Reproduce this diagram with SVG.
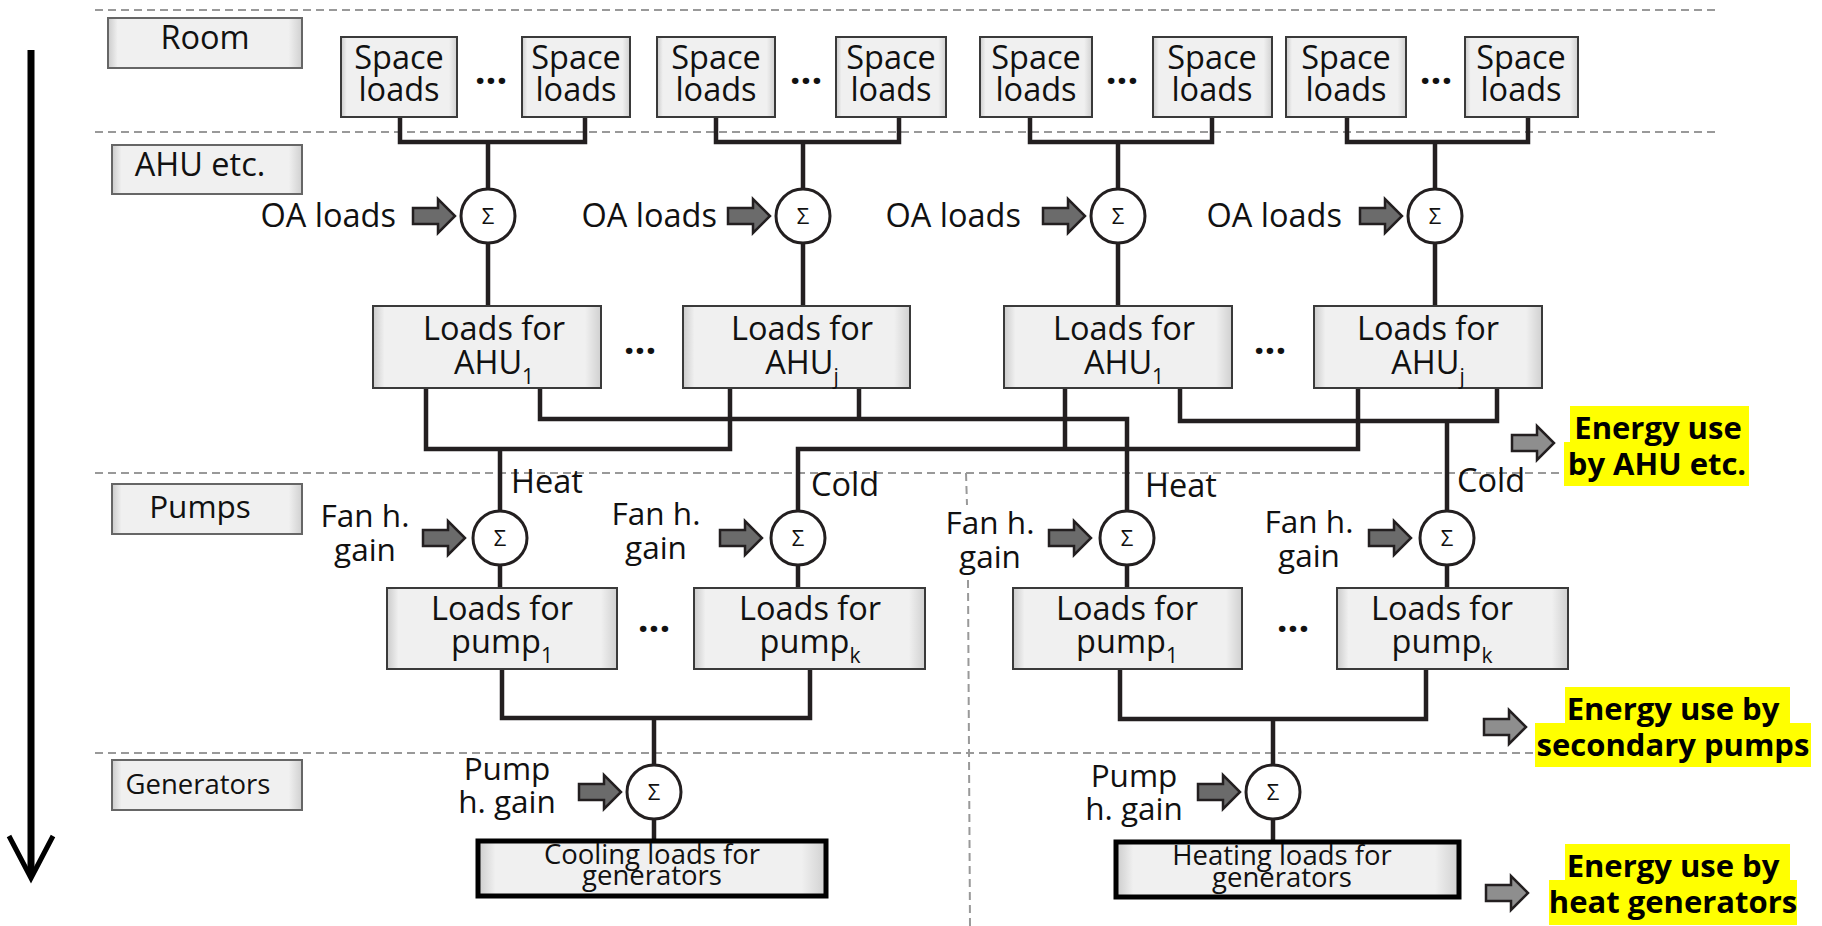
<svg xmlns="http://www.w3.org/2000/svg" width="1822" height="926" viewBox="0 0 1822 926">
<defs>
<linearGradient id="boxg" x1="0" y1="0" x2="1" y2="0">
<stop offset="0" stop-color="#cbcbcb"/>
<stop offset="0.05" stop-color="#f0f0f0"/>
<stop offset="0.93" stop-color="#f0f0f0"/>
<stop offset="1" stop-color="#d0d0d0"/>
</linearGradient>
<path id="barrow" d="M0,-8 H25 V-17 L42,0 L25,17 V8 H0 Z"/>
</defs>
<style>
text { font-family: "Open Sans", "Noto Sans", "DejaVu Sans", sans-serif; fill: #111; }
.c { text-anchor: middle; }
.e { text-anchor: end; }
.f32 { font-size: 32.5px; }
.f31 { font-size: 31.5px; }
.f27 { font-size: 27.5px; }
.sig { font-size: 22px; text-anchor: middle; }
.dots { font-size: 38px; font-weight: bold; text-anchor: middle; }
.en { font-size: 31px; font-weight: bold; text-anchor: middle; fill: #000; }
.lbox { fill: url(#boxg); stroke: #666; stroke-width: 2; }
.box { fill: url(#boxg); stroke: #3a3a3a; stroke-width: 2; }
.gbox { fill: url(#boxg); stroke: #000; stroke-width: 5; }
.sum { fill: #fff; stroke: #231f20; stroke-width: 3; }
.dash { stroke: #999; stroke-width: 2; stroke-dasharray: 8 5; fill: none; }
.wire { stroke: #231f20; stroke-width: 4.5; fill: none; stroke-linejoin: miter; }
.ain { fill: #6b6b6b; stroke: #231f20; stroke-width: 2.5; }
.aout { fill: #8e8e8e; stroke: #231f20; stroke-width: 2.5; }
.hl { fill: #ffff00; }
.bg { fill: #fff; }
</style>

<g id="dividers">
<line class="dash" x1="95" y1="10" x2="1716" y2="10"/>
<line class="dash" x1="95" y1="132" x2="1716" y2="132"/>
<line class="dash" x1="95" y1="473" x2="1566" y2="473"/>
<line class="dash" x1="95" y1="753" x2="1537" y2="753"/>
<line class="dash" x1="966" y1="473" x2="967" y2="505"/>
<line class="dash" x1="968" y1="580" x2="970" y2="926"/>
</g>

<g id="flow-arrow">
<line x1="31" y1="50" x2="31" y2="876" stroke="#000" stroke-width="7"/>
<polyline points="9,836 31,878 53,836" fill="none" stroke="#000" stroke-width="5"/>
</g>

<g id="cat-room"><rect class="lbox" x="108" y="18" width="194" height="50"/><text class="c f32" x="205" y="49">Room</text></g>
<g id="cat-ahu"><rect class="lbox" x="112" y="145" width="190" height="49"/><text class="c f32" x="200" y="176">AHU etc.</text></g>
<g id="cat-pumps"><rect class="lbox" x="112" y="484" width="190" height="50"/><text class="c f31" x="200" y="518">Pumps</text></g>
<g id="cat-gen"><rect class="lbox" x="112" y="760" width="190" height="50"/><text class="c f27" x="198" y="794">Generators</text></g>

<g id="connectors">
<path class="wire" d="M400,117 V142 H585 V117 M488,142 V189"/>
<path class="wire" d="M716,117 V142 H899 V117 M803,142 V189"/>
<path class="wire" d="M1030,117 V142 H1212 V117 M1118,142 V189"/>
<path class="wire" d="M1347,117 V142 H1528 V117 M1435,142 V189"/>
<path class="wire" d="M488,243 V306 M803,243 V306 M1118,243 V306 M1435,243 V306"/>
<path class="wire" d="M426,388 V449 H730 V388 M500,449 V511"/>
<path class="wire" d="M540,388 V419 H1127 V511 M859,388 V419"/>
<path class="wire" d="M798,511 V449 H1358 V388 M1065,388 V449"/>
<path class="wire" d="M1180,388 V421 H1497 V388 M1447,421 V511"/>
<path class="wire" d="M500,565 V588 M798,565 V588 M1127,565 V588 M1447,565 V588"/>
<path class="wire" d="M502,669 V718 H810 V669 M654,718 V765"/>
<path class="wire" d="M1120,669 V719 H1426 V669 M1273,719 V765"/>
<path class="wire" d="M654,819 V841 M1273,819 V842"/>
<use href="#barrow" class="ain" x="413" y="216"/>
<use href="#barrow" class="ain" x="728" y="216"/>
<use href="#barrow" class="ain" x="1043" y="216"/>
<use href="#barrow" class="ain" x="1360" y="216"/>
<use href="#barrow" class="ain" x="423" y="538"/>
<use href="#barrow" class="ain" x="720" y="538"/>
<use href="#barrow" class="ain" x="1049" y="538"/>
<use href="#barrow" class="ain" x="1369" y="538"/>
<use href="#barrow" class="ain" x="579" y="792"/>
<use href="#barrow" class="ain" x="1198" y="792"/>
<use href="#barrow" class="aout" x="1512" y="443"/>
<use href="#barrow" class="aout" x="1484" y="727"/>
<use href="#barrow" class="aout" x="1486" y="893"/>
</g>

<g id="space-loads">
<g id="sl1"><rect class="box" x="341" y="37" width="116" height="80"/><text class="c f32" x="399" y="69">Space</text><text class="c f32" x="399" y="101">loads</text></g>
<g id="sl2"><rect class="box" x="522" y="37" width="108" height="80"/><text class="c f32" x="576" y="69">Space</text><text class="c f32" x="576" y="101">loads</text></g>
<g id="sl3"><rect class="box" x="657" y="37" width="118" height="80"/><text class="c f32" x="716" y="69">Space</text><text class="c f32" x="716" y="101">loads</text></g>
<g id="sl4"><rect class="box" x="836" y="37" width="110" height="80"/><text class="c f32" x="891" y="69">Space</text><text class="c f32" x="891" y="101">loads</text></g>
<g id="sl5"><rect class="box" x="980" y="37" width="112" height="80"/><text class="c f32" x="1036" y="69">Space</text><text class="c f32" x="1036" y="101">loads</text></g>
<g id="sl6"><rect class="box" x="1153" y="37" width="119" height="80"/><text class="c f32" x="1212" y="69">Space</text><text class="c f32" x="1212" y="101">loads</text></g>
<g id="sl7"><rect class="box" x="1286" y="37" width="120" height="80"/><text class="c f32" x="1346" y="69">Space</text><text class="c f32" x="1346" y="101">loads</text></g>
<g id="sl8"><rect class="box" x="1465" y="37" width="113" height="80"/><text class="c f32" x="1521" y="69">Space</text><text class="c f32" x="1521" y="101">loads</text></g>
<text class="dots" x="491" y="84">...</text>
<text class="dots" x="806" y="84">...</text>
<text class="dots" x="1122" y="84">...</text>
<text class="dots" x="1436" y="84">...</text>
</g>

<g id="oa-labels">
<text class="e f32" x="396" y="227">OA loads</text>
<text class="e f32" x="717" y="227">OA loads</text>
<text class="e f32" x="1021" y="227">OA loads</text>
<text class="e f32" x="1342" y="227">OA loads</text>
</g>

<g id="sum-row1">
<g id="s1"><circle class="sum" cx="488" cy="216" r="27"/><text class="sig" x="488" y="224">Σ</text></g>
<g id="s2"><circle class="sum" cx="803" cy="216" r="27"/><text class="sig" x="803" y="224">Σ</text></g>
<g id="s3"><circle class="sum" cx="1118" cy="216" r="27"/><text class="sig" x="1118" y="224">Σ</text></g>
<g id="s4"><circle class="sum" cx="1435" cy="216" r="27"/><text class="sig" x="1435" y="224">Σ</text></g>
</g>

<g id="ahu-loads">
<g id="ahuA"><rect class="box" x="373" y="306" width="228" height="82"/><text class="c f32" x="494" y="340">Loads for</text><text class="c f32" x="494" y="374">AHU<tspan font-size="21" dy="10">1</tspan></text></g>
<g id="ahuB"><rect class="box" x="683" y="306" width="227" height="82"/><text class="c f32" x="802" y="340">Loads for</text><text class="c f32" x="802" y="374">AHU<tspan font-size="21" dy="10">j</tspan></text></g>
<g id="ahuC"><rect class="box" x="1004" y="306" width="228" height="82"/><text class="c f32" x="1124" y="340">Loads for</text><text class="c f32" x="1124" y="374">AHU<tspan font-size="21" dy="10">1</tspan></text></g>
<g id="ahuD"><rect class="box" x="1314" y="306" width="228" height="82"/><text class="c f32" x="1428" y="340">Loads for</text><text class="c f32" x="1428" y="374">AHU<tspan font-size="21" dy="10">j</tspan></text></g>
<text class="dots" x="640" y="354">...</text>
<text class="dots" x="1270" y="354">...</text>
</g>

<g id="hc-labels">
<rect class="bg" x="507" y="474" width="82" height="28"/>
<rect class="bg" x="806" y="474" width="78" height="28"/>
<rect class="bg" x="1139" y="474" width="84" height="28"/>
<rect class="bg" x="1452" y="474" width="78" height="26"/>
<text class="f32" x="511" y="493">Heat</text>
<text class="f32" x="811" y="496">Cold</text>
<text class="f32" x="1145" y="497">Heat</text>
<text class="f32" x="1457" y="492">Cold</text>
</g>

<g id="fan-labels">
<text class="c f31" x="365" y="527">Fan h.</text><text class="c f31" x="365" y="561">gain</text>
<text class="c f31" x="656" y="525">Fan h.</text><text class="c f31" x="656" y="559">gain</text>
<text class="c f31" x="990" y="534">Fan h.</text><text class="c f31" x="990" y="568">gain</text>
<text class="c f31" x="1309" y="533">Fan h.</text><text class="c f31" x="1309" y="567">gain</text>
</g>

<g id="sum-row2">
<g id="s5"><circle class="sum" cx="500" cy="538" r="27"/><text class="sig" x="500" y="546">Σ</text></g>
<g id="s6"><circle class="sum" cx="798" cy="538" r="27"/><text class="sig" x="798" y="546">Σ</text></g>
<g id="s7"><circle class="sum" cx="1127" cy="538" r="27"/><text class="sig" x="1127" y="546">Σ</text></g>
<g id="s8"><circle class="sum" cx="1447" cy="538" r="27"/><text class="sig" x="1447" y="546">Σ</text></g>
</g>

<g id="pump-loads">
<g id="pA"><rect class="box" x="387" y="588" width="230" height="81"/><text class="c f32" x="502" y="620">Loads for</text><text class="c f32" x="502" y="653">pump<tspan font-size="21" dy="10">1</tspan></text></g>
<g id="pB"><rect class="box" x="694" y="588" width="231" height="81"/><text class="c f32" x="810" y="620">Loads for</text><text class="c f32" x="810" y="653">pump<tspan font-size="21" dy="10">k</tspan></text></g>
<g id="pC"><rect class="box" x="1013" y="588" width="229" height="81"/><text class="c f32" x="1127" y="620">Loads for</text><text class="c f32" x="1127" y="653">pump<tspan font-size="21" dy="10">1</tspan></text></g>
<g id="pD"><rect class="box" x="1337" y="588" width="231" height="81"/><text class="c f32" x="1442" y="620">Loads for</text><text class="c f32" x="1442" y="653">pump<tspan font-size="21" dy="10">k</tspan></text></g>
<text class="dots" x="654" y="632">...</text>
<text class="dots" x="1293" y="632">...</text>
</g>

<g id="pump-gain-labels">
<text class="c f31" x="507" y="780">Pump</text><text class="c f31" x="507" y="813">h. gain</text>
<text class="c f31" x="1134" y="787">Pump</text><text class="c f31" x="1134" y="820">h. gain</text>
</g>

<g id="sum-gen">
<g id="s9"><circle class="sum" cx="654" cy="792" r="27"/><text class="sig" x="654" y="800">Σ</text></g>
<g id="s10"><circle class="sum" cx="1273" cy="792" r="27"/><text class="sig" x="1273" y="800">Σ</text></g>
</g>

<g id="gen-loads">
<g id="gCool"><rect class="gbox" x="478" y="841" width="348" height="55"/><text class="c f27" x="652" y="864">Cooling loads for</text><text class="c f27" x="652" y="885">generators</text></g>
<g id="gHeat"><rect class="gbox" x="1116" y="842" width="343" height="55"/><text class="c f27" x="1282" y="865">Heating loads for</text><text class="c f27" x="1282" y="887">generators</text></g>
</g>

<g id="energy-ahu">
<rect class="hl" x="1570" y="406" width="179" height="36"/><rect class="hl" x="1564" y="442" width="185" height="44"/>
<text class="en" x="1658" y="439">Energy use</text><text class="en" x="1657" y="475">by AHU etc.</text>
</g>
<g id="energy-pumps">
<rect class="hl" x="1565" y="687" width="225" height="36"/><rect class="hl" x="1535" y="723" width="276" height="44"/>
<text class="en" x="1673" y="720">Energy use by</text><text class="en" x="1673" y="756">secondary pumps</text>
</g>
<g id="energy-gen">
<rect class="hl" x="1565" y="844" width="225" height="36"/><rect class="hl" x="1549" y="880" width="248" height="45"/>
<text class="en" x="1673" y="877">Energy use by</text><text class="en" x="1673" y="913">heat generators</text>
</g>
</svg>
